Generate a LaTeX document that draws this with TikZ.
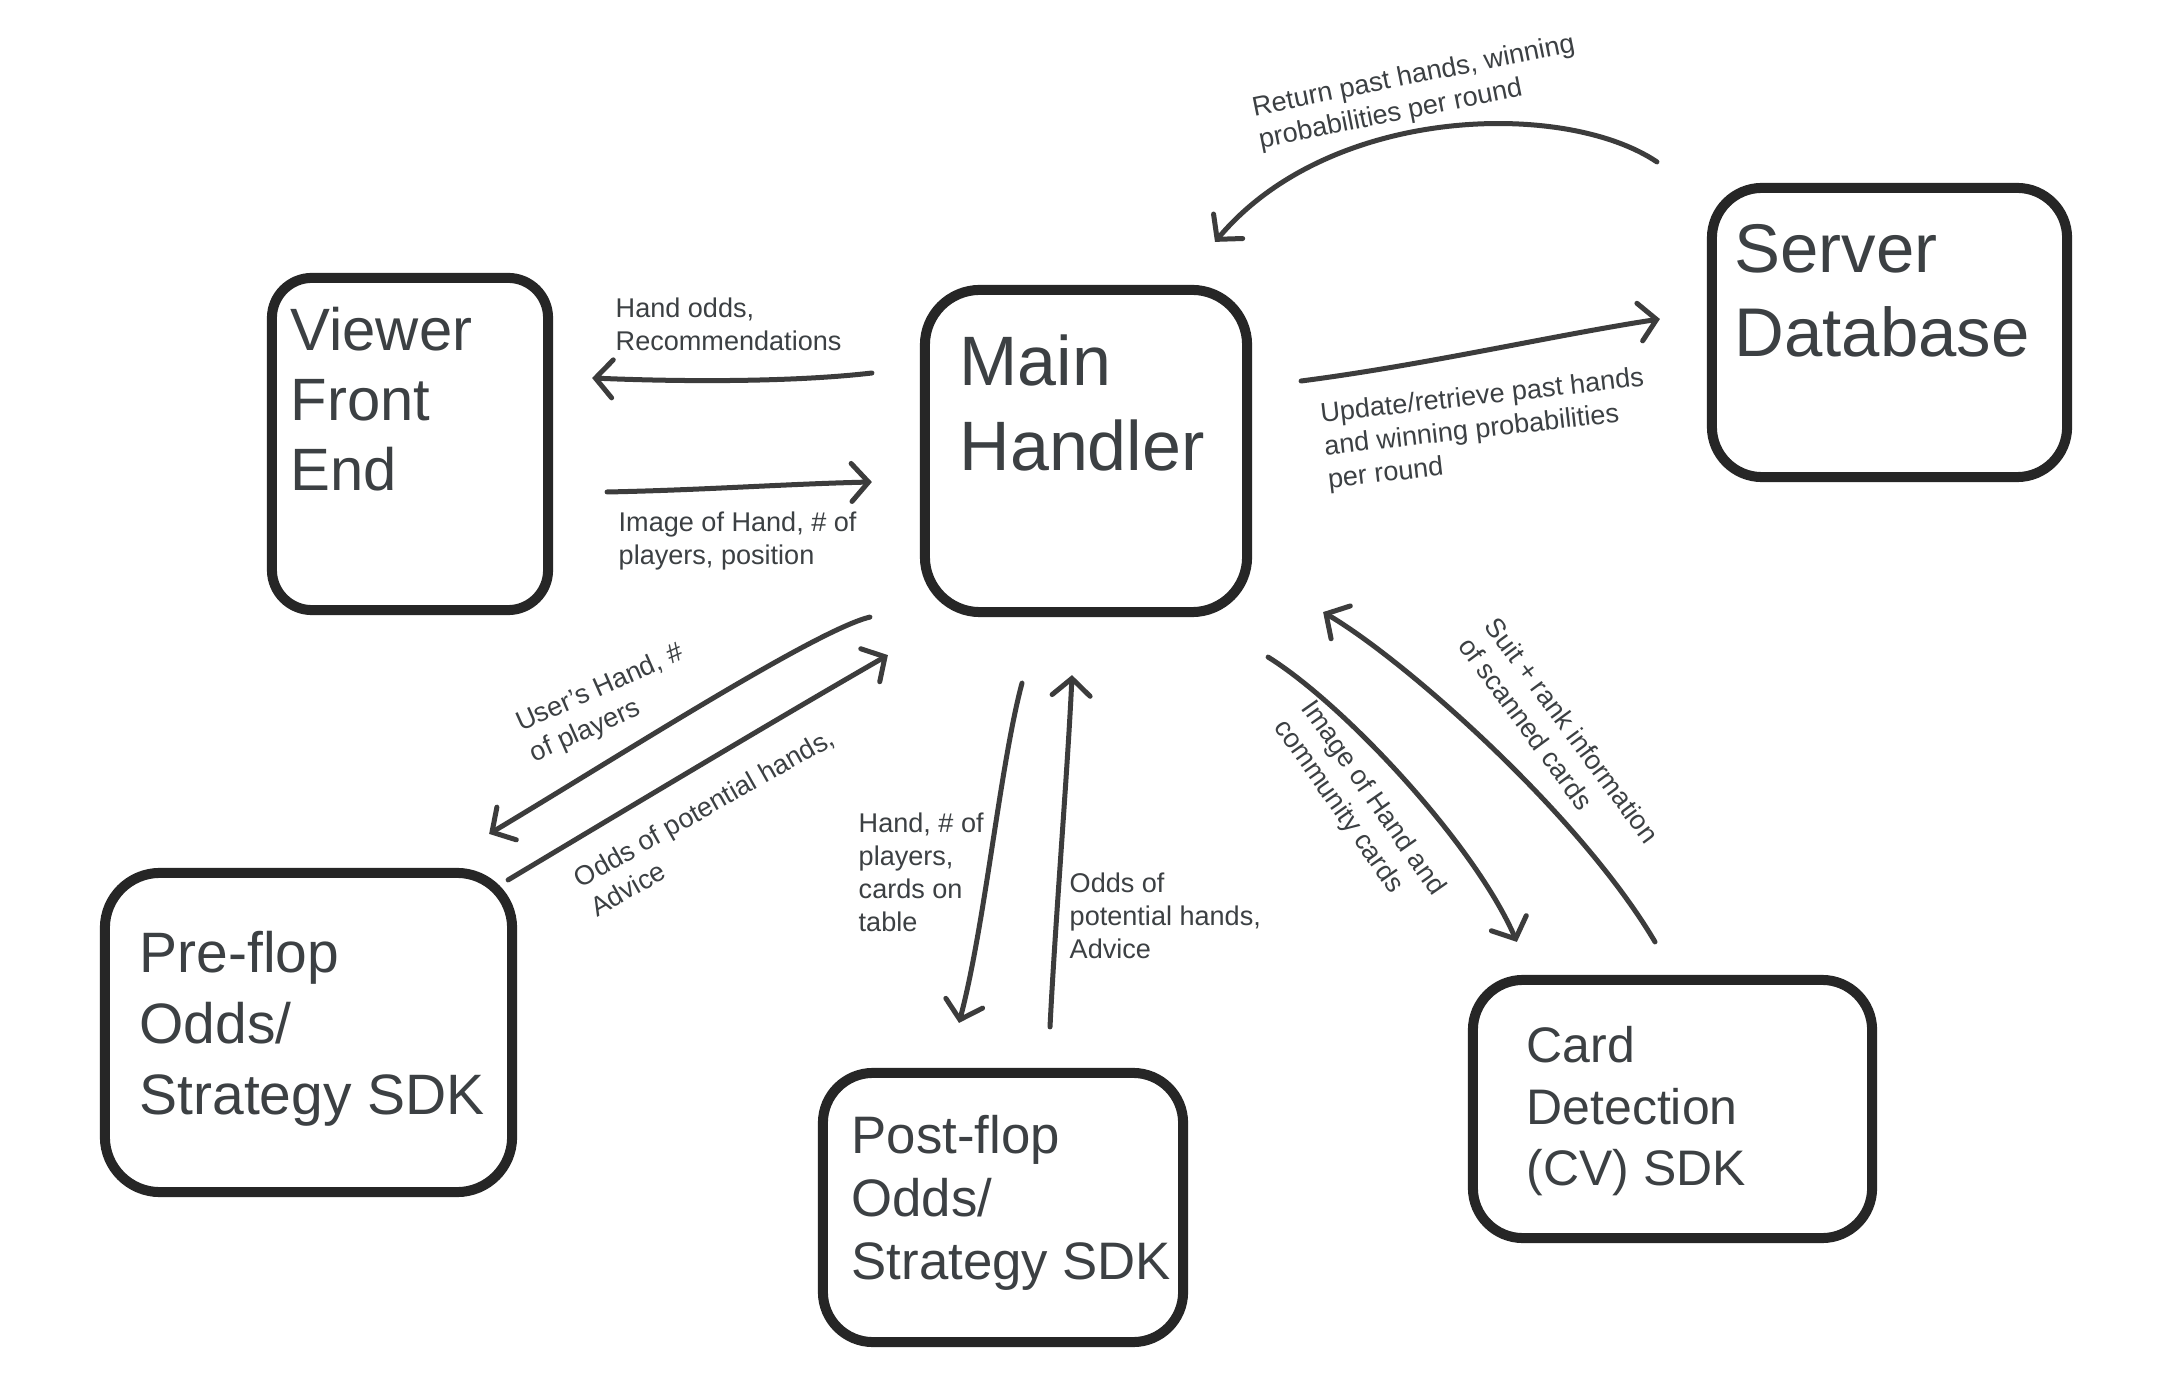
\documentclass[tikz,border=0pt]{standalone}
\usepackage{fontspec}
\setmainfont{Liberation Sans}
\usetikzlibrary{arrows.meta}

\definecolor{ink}{HTML}{262626}
\definecolor{txt}{HTML}{3C4043}

\begin{document}
\begin{tikzpicture}[x=0.01cm, y=-0.01cm,
  box/.style={draw=ink, line width=1mm, rounded corners=5mm, inner sep=0pt},
  big/.style={inner sep=0pt, anchor=north west, align=left, text=txt},
  lbl/.style={inner sep=0pt, align=left, text=txt, font=\fontsize{7.7}{9.4}\selectfont},
  flow/.style={draw=ink!90, line width=0.5mm, line cap=round,
    -{Straight Barb[length=1.7mm, width=3.8mm, line cap=round]}}]
\fill[white] (0,0) rectangle (2158,1392);
\useasboundingbox (0,0) rectangle (2158,1392);

\node[box, minimum width=2.76cm, minimum height=3.32cm, rounded corners=4mm] (viewer) at (410,444) {};
\node[big, font=\fontsize{17}{19.9}\selectfont] (viewer-t) at ([shift={(23,34)}]viewer.north west) {Viewer\\Front\\End};
\node[box, minimum width=3.22cm, minimum height=3.22cm, rounded corners=5.5mm] (main) at (1086,451) {};
\node[big, font=\fontsize{19.9}{24.2}\selectfont] (main-t) at ([shift={(39,49)}]main.north west) {Main\\Handler};
\node[box, minimum width=3.55cm, minimum height=2.89cm] (server) at (1889.5,332.5) {};
\node[big, font=\fontsize{19.6}{23.9}\selectfont] (server-t) at ([shift={(27,41)}]server.north west) {Server\\Database};
\node[box, minimum width=4.07cm, minimum height=3.19cm, rounded corners=5.5mm] (pre) at (308.5,1032.5) {};
\node[big, font=\fontsize{16.2}{20.2}\selectfont] (pre-t) at ([shift={(39,63)}]pre.north west) {Pre-flop\\Odds/\\Strategy SDK};
\node[box, minimum width=3.6cm, minimum height=2.69cm] (post) at (1003,1207.5) {};
\node[big, font=\fontsize{15}{17.9}\selectfont] (post-t) at ([shift={(33,47)}]post.north west) {Post-flop\\Odds/\\Strategy SDK};
\node[box, minimum width=3.99cm, minimum height=2.58cm] (card) at (1672.5,1109) {};
\node[big, font=\fontsize{14.2}{17.4}\selectfont] (card-t) at ([shift={(58,51)}]card.north west) {Card\\Detection\\(CV) SDK};

\draw[flow] ([shift={(-50,-21)}]server.north west) .. controls +(-92,-62) and +(115,-137) .. ([shift={(129,-43)}]main.north);
\node[lbl, rotate=11.4] (l-return) at (1417,93) {Return past hands, winning\\probabilities per round};
\draw[flow] ([shift={(49,-70)}]main.east) .. controls +(124,-16) and +(-105,16) .. ([shift={(-47,-13.5)}]server.west);
\node[lbl, rotate=6.5] (l-update) at (1486,430) {Update/retrieve past hands\\and winning probabilities\\per round};

\draw[flow] ([shift={(-48,-78)}]main.west) .. controls +(-77,9) and +(93,4) .. ([shift={(39,-66)}]viewer.east);
\node[lbl, anchor=north west] (l-odds) at (615,297) {Hand odds,\\Recommendations};
\draw[flow] ([shift={(54,48)}]viewer.east) .. controls +(98,-2) and +(-87,2) .. ([shift={(-48,31)}]main.west);
\node[lbl, anchor=north west] (l-image) at (618,511) {Image of Hand, \# of\\players, position};

\draw[flow] ([shift={(-50,0)}]main.south west) .. controls +(-55,13) and +(116,-69) .. ([shift={(-28,-34)}]pre.north east);
\node[lbl, rotate=24] (l-user) at (607,704) {User's Hand, \#\\of players};
\draw[flow] ([shift={(-9,12)}]pre.north east) .. controls +(117,-70) and +(-113,65) .. ([shift={(-32,38)}]main.south west);
\node[lbl, rotate=29.5] (l-pre) at (712,822) {Odds of potential hands,\\Advice};

\draw[flow] ([shift={(-64,66)}]main.south) .. controls +(-22,82) and +(26,-98) .. ([shift={(-44,-45)}]post.north);
\node[lbl, anchor=north west] (l-hand) at (858,812) {Hand, \# of\\players,\\cards on\\table};
\draw[flow] ([shift={(47,-41)}]post.north) .. controls +(5,-102) and +(-4,90) .. ([shift={(-14,58)}]main.south);
\node[lbl, anchor=north west] (l-post) at (1069,872) {Odds of\\potential hands,\\Advice};

\draw[flow] ([shift={(16,40)}]main.south east) .. controls +(77,48) and +(-42,-97) .. ([shift={(49,-33)}]card.north west);
\node[lbl, rotate=-55] (l-cv-in) at (1359,808) {Image of Hand and\\community cards};
\draw[flow] ([shift={(-17.5,-33)}]card.north) .. controls +(-75,-127) and +(82,48) .. ([shift={(71,-5)}]main.south east);
\node[lbl, rotate=-53.6] (l-cv-out) at (1559,740) {Suit + rank information\\of scanned cards};
\end{tikzpicture}
\end{document}
